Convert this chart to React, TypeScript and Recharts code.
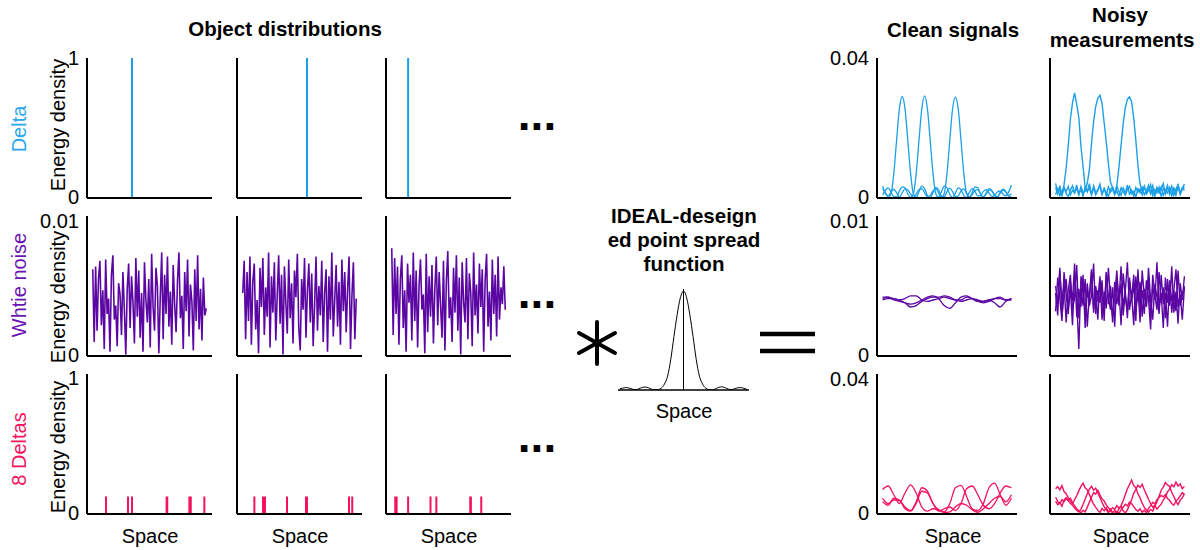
import React from 'react';
import { LineChart, Line, XAxis, YAxis, ReferenceLine } from 'recharts';

const FONT = '"Liberation Sans", Arial, Helvetica, sans-serif';
const BLUE = '#1b9fe7';
const PURPLE = '#5b06a3';
const PINK = '#f3125b';

// ---------- tick labels ----------
const objectDeltaTicks = [0, 1];
const noiseTicks = [0, 0.01];
const signalTicks = [0, 0.04];

// ---------- object distributions ----------
const deltaPositions = [0.36, 0.56, 0.177];
const deltaHeight = 1;
const eightDeltaHeight = 0.125;
const eightDeltas1 = [0.152, 0.328, 0.36, 0.637, 0.642, 0.819, 0.83, 0.939];
const eightDeltas2 = [0.139, 0.208, 0.224, 0.4, 0.552, 0.56, 0.896, 0.922];
const eightDeltas3 = [0.074, 0.085, 0.177, 0.356, 0.403, 0.674, 0.679, 0.762];

const whiteNoise1 = [
  0.0062, 0.0010, 0.0064, 0.0018, 0.0055, 0.0068, 0.0022, 0.0047, 0.0005, 0.0069,
  0.0030, 0.0041, 0.0003, 0.0058, 0.0072, 0.0026, 0.0036, 0.0007, 0.0052, 0.0044,
  0.0015, 0.0060, 0.0033, 0.0001, 0.0048, 0.0066, 0.0020, 0.0057, 0.0038, 0.0009,
  0.0070, 0.0028, 0.0061, 0.0013, 0.0045, 0.0003, 0.0067, 0.0040, 0.0024, 0.0055,
  0.0006, 0.0073, 0.0035, 0.0018, 0.0063, 0.0050, 0.0002, 0.0042, 0.0074, 0.0012,
  0.0058, 0.0030, 0.0071, 0.0021, 0.0046, 0.0008, 0.0065, 0.0037, 0.0017, 0.0054,
  0.0074, 0.0027, 0.0043, 0.0005, 0.0060, 0.0032, 0.0069, 0.0014, 0.0051, 0.0039,
  0.0004, 0.0062, 0.0025, 0.0072, 0.0019, 0.0048, 0.0011, 0.0056, 0.0029, 0.0034,
];
const whiteNoise2 = [
  0.0045, 0.0068, 0.0012, 0.0060, 0.0025, 0.0071, 0.0008, 0.0053, 0.0066, 0.0019,
  0.0040, 0.0002, 0.0063, 0.0035, 0.0070, 0.0015, 0.0049, 0.0028, 0.0074, 0.0006,
  0.0057, 0.0031, 0.0067, 0.0011, 0.0044, 0.0072, 0.0023, 0.0058, 0.0001, 0.0064,
  0.0038, 0.0016, 0.0069, 0.0027, 0.0052, 0.0009, 0.0061, 0.0042, 0.0073, 0.0020,
  0.0004, 0.0055, 0.0033, 0.0070, 0.0013, 0.0047, 0.0066, 0.0024, 0.0059, 0.0007,
  0.0036, 0.0071, 0.0018, 0.0050, 0.0029, 0.0068, 0.0010, 0.0045, 0.0062, 0.0003,
  0.0057, 0.0026, 0.0074, 0.0014, 0.0040, 0.0065, 0.0021, 0.0053, 0.0008, 0.0069,
  0.0032, 0.0060, 0.0017, 0.0048, 0.0071, 0.0005, 0.0043, 0.0067, 0.0012, 0.0041,
];
const whiteNoise3 = [
  0.0077, 0.0015, 0.0070, 0.0030, 0.0064, 0.0008, 0.0055, 0.0072, 0.0020, 0.0047,
  0.0003, 0.0066, 0.0038, 0.0058, 0.0011, 0.0074, 0.0025, 0.0061, 0.0006, 0.0050,
  0.0069, 0.0033, 0.0044, 0.0002, 0.0073, 0.0017, 0.0057, 0.0028, 0.0065, 0.0009,
  0.0048, 0.0071, 0.0022, 0.0060, 0.0036, 0.0013, 0.0068, 0.0004, 0.0053, 0.0075,
  0.0027, 0.0042, 0.0010, 0.0063, 0.0031, 0.0072, 0.0018, 0.0056, 0.0001, 0.0067,
  0.0039, 0.0024, 0.0070, 0.0012, 0.0059, 0.0045, 0.0007, 0.0074, 0.0029, 0.0051,
  0.0016, 0.0066, 0.0035, 0.0062, 0.0003, 0.0054, 0.0073, 0.0021, 0.0046, 0.0011,
  0.0069, 0.0030, 0.0058, 0.0014, 0.0071, 0.0026, 0.0049, 0.0037, 0.0064, 0.0033,
];

// ---------- point spread function (normalised) ----------
const psf = [
  0.012, 0.020, 0.024, 0.018, 0.008, 0.004, 0.012, 0.026, 0.030, 0.022,
  0.008, 0.001, 0.004, 0.018, 0.060, 0.140, 0.310, 0.540, 0.760, 0.930,
  1.000, 0.930, 0.760, 0.540, 0.310, 0.140, 0.060, 0.018, 0.004, 0.001,
  0.010, 0.026, 0.032, 0.024, 0.010, 0.004, 0.012, 0.022, 0.025, 0.016,
  0.006,
];

// ---------- clean signals: delta row ----------
const cleanDeltaA = [
  0.0026, 0.0014, 0.0002, 0.0012, 0.0070, 0.0165, 0.0255, 0.0290, 0.0255, 0.0165,
  0.0070, 0.0012, 0.0002, 0.0018, 0.0034, 0.0027, 0.0007, 0.0001, 0.0015, 0.0030,
  0.0023, 0.0006, 0.0003, 0.0018, 0.0028, 0.0018, 0.0004, 0.0006, 0.0020, 0.0026,
  0.0014, 0.0003, 0.0009, 0.0022, 0.0024, 0.0011, 0.0003, 0.0012, 0.0023, 0.0020,
  0.0008, 0.0004, 0.0015, 0.0025, 0.0019, 0.0007, 0.0012,
];
const cleanDeltaB = [
  0.0009, 0.0022, 0.0029, 0.0017, 0.0004, 0.0003, 0.0020, 0.0032, 0.0029, 0.0012,
  0.0002, 0.0012, 0.0070, 0.0165, 0.0255, 0.0292, 0.0255, 0.0165, 0.0070, 0.0012,
  0.0002, 0.0017, 0.0034, 0.0029, 0.0010, 0.0001, 0.0014, 0.0029, 0.0024, 0.0007,
  0.0002, 0.0016, 0.0027, 0.0019, 0.0006, 0.0007, 0.0019, 0.0024, 0.0014, 0.0004,
  0.0008, 0.0017, 0.0020, 0.0011, 0.0006, 0.0017, 0.0037,
];
const cleanDeltaC = [
  0.0034, 0.0014, 0.0006, 0.0017, 0.0025, 0.0015, 0.0003, 0.0015, 0.0026, 0.0023,
  0.0012, 0.0002, 0.0011, 0.0025, 0.0027, 0.0015, 0.0003, 0.0007, 0.0020, 0.0027,
  0.0014, 0.0002, 0.0012, 0.0070, 0.0165, 0.0255, 0.0288, 0.0255, 0.0165, 0.0070,
  0.0012, 0.0002, 0.0016, 0.0032, 0.0030, 0.0011, 0.0002, 0.0015, 0.0027, 0.0022,
  0.0007, 0.0003, 0.0015, 0.0022, 0.0016, 0.0006, 0.0002,
];

// ---------- noisy measurements: delta row ----------
const noisyDeltaA = [
  0.0030, 0.0012, 0.0035, 0.0008, 0.0038, 0.0085, 0.0150, 0.0225, 0.0272, 0.0300,
  0.0268, 0.0230, 0.0148, 0.0090, 0.0030, 0.0018, 0.0041, 0.0012, 0.0028, 0.0009,
  0.0022, 0.0035, 0.0010, 0.0027, 0.0016, 0.0004, 0.0025, 0.0031, 0.0011, 0.0020,
  0.0006, 0.0029, 0.0018, 0.0008, 0.0024, 0.0033, 0.0012, 0.0019, 0.0003, 0.0026,
  0.0015, 0.0030, 0.0009, 0.0021, 0.0036, 0.0011, 0.0024, 0.0005, 0.0028, 0.0017,
  0.0032, 0.0008, 0.0023, 0.0014, 0.0030, 0.0006, 0.0027, 0.0019, 0.0034, 0.0010,
  0.0025, 0.0031,
];
const noisyDeltaB = [
  0.0010, 0.0026, 0.0007, 0.0019, 0.0031, 0.0013, 0.0004, 0.0022, 0.0035, 0.0016,
  0.0028, 0.0009, 0.0033, 0.0015, 0.0020, 0.0042, 0.0082, 0.0155, 0.0218, 0.0262,
  0.0285, 0.0294, 0.0270, 0.0215, 0.0160, 0.0098, 0.0045, 0.0030, 0.0012, 0.0034,
  0.0018, 0.0008, 0.0029, 0.0014, 0.0037, 0.0011, 0.0023, 0.0005, 0.0030, 0.0017,
  0.0026, 0.0009, 0.0033, 0.0013, 0.0021, 0.0038, 0.0007, 0.0024, 0.0015, 0.0031,
  0.0004, 0.0027, 0.0019, 0.0036, 0.0010, 0.0022, 0.0029, 0.0008, 0.0034, 0.0016,
  0.0025, 0.0040,
];
const noisyDeltaC = [
  0.0042, 0.0015, 0.0024, 0.0006, 0.0029, 0.0018, 0.0033, 0.0009, 0.0022, 0.0014,
  0.0037, 0.0011, 0.0026, 0.0005, 0.0031, 0.0019, 0.0028, 0.0008, 0.0035, 0.0016,
  0.0023, 0.0040, 0.0012, 0.0027, 0.0006, 0.0032, 0.0017, 0.0025, 0.0010, 0.0035,
  0.0088, 0.0150, 0.0212, 0.0258, 0.0282, 0.0289, 0.0275, 0.0228, 0.0165, 0.0092,
  0.0040, 0.0021, 0.0033, 0.0012, 0.0028, 0.0019, 0.0036, 0.0009, 0.0030, 0.0014,
  0.0025, 0.0041, 0.0011, 0.0029, 0.0018, 0.0034, 0.0007, 0.0026, 0.0038, 0.0013,
  0.0030, 0.0022,
];

// ---------- clean signals: white noise row ----------
const cleanNoiseA = [
  0.0040, 0.0041, 0.0041, 0.0040, 0.0041, 0.0043, 0.0043, 0.0040, 0.0039, 0.0040,
  0.0041, 0.0042, 0.0041, 0.0040, 0.0040, 0.0042, 0.0041, 0.0039, 0.0039, 0.0040,
  0.0041, 0.0041, 0.0040, 0.0040,
];
const cleanNoiseB = [
  0.0041, 0.0042, 0.0041, 0.0040, 0.0038, 0.0035, 0.0036, 0.0039, 0.0041, 0.0042,
  0.0042, 0.0043, 0.0042, 0.0040, 0.0039, 0.0040, 0.0041, 0.0040, 0.0039, 0.0040,
  0.0038, 0.0035, 0.0039, 0.0041,
];
const cleanNoiseC = [
  0.0042, 0.0042, 0.0040, 0.0039, 0.0038, 0.0037, 0.0038, 0.0040, 0.0042, 0.0043,
  0.0041, 0.0036, 0.0034, 0.0038, 0.0042, 0.0043, 0.0041, 0.0039, 0.0038, 0.0039,
  0.0041, 0.0042, 0.0040, 0.0041,
];

// ---------- noisy measurements: white noise row ----------
const noisyNoiseA = [
  0.0045, 0.0029, 0.0061, 0.0038, 0.0052, 0.0024, 0.0047, 0.0058, 0.0033, 0.0042,
  0.0065, 0.0027, 0.0049, 0.0036, 0.0055, 0.0021, 0.0044, 0.0060, 0.0031, 0.0050,
  0.0039, 0.0057, 0.0026, 0.0046, 0.0034, 0.0063, 0.0041, 0.0028, 0.0053, 0.0037,
  0.0048, 0.0022, 0.0059, 0.0043, 0.0032, 0.0056, 0.0040, 0.0051, 0.0025, 0.0062,
  0.0035, 0.0047, 0.0030, 0.0054, 0.0041, 0.0019, 0.0058, 0.0044, 0.0033, 0.0060,
  0.0038, 0.0049, 0.0027, 0.0055, 0.0036, 0.0064, 0.0031, 0.0046, 0.0023, 0.0052,
  0.0040, 0.0057,
];
const noisyNoiseB = [
  0.0032, 0.0056, 0.0041, 0.0025, 0.0060, 0.0044, 0.0030, 0.0053, 0.0039, 0.0066,
  0.0028, 0.0048, 0.0035, 0.0058, 0.0020, 0.0047, 0.0038, 0.0062, 0.0034, 0.0045,
  0.0026, 0.0055, 0.0042, 0.0031, 0.0059, 0.0037, 0.0050, 0.0024, 0.0043, 0.0061,
  0.0036, 0.0052, 0.0029, 0.0046, 0.0067, 0.0033, 0.0044, 0.0022, 0.0057, 0.0039,
  0.0053, 0.0028, 0.0048, 0.0035, 0.0063, 0.0040, 0.0026, 0.0051, 0.0042, 0.0030,
  0.0058, 0.0037, 0.0045, 0.0021, 0.0054, 0.0039, 0.0047, 0.0032, 0.0061, 0.0036,
  0.0043, 0.0050,
];
const noisyNoiseC = [
  0.0050, 0.0037, 0.0063, 0.0028, 0.0044, 0.0055, 0.0034, 0.0048, 0.0022, 0.0059,
  0.0040, 0.0005, 0.0057, 0.0045, 0.0031, 0.0052, 0.0036, 0.0043, 0.0066, 0.0030,
  0.0047, 0.0038, 0.0054, 0.0025, 0.0060, 0.0042, 0.0033, 0.0049, 0.0021, 0.0056,
  0.0039, 0.0064, 0.0035, 0.0046, 0.0027, 0.0053, 0.0041, 0.0058, 0.0032, 0.0048,
  0.0024, 0.0061, 0.0043, 0.0036, 0.0055, 0.0029, 0.0050, 0.0040, 0.0067, 0.0034,
  0.0045, 0.0020, 0.0056, 0.0038, 0.0052, 0.0031, 0.0047, 0.0062, 0.0035, 0.0044,
  0.0026, 0.0049,
];

// ---------- clean signals: 8 deltas row ----------
const cleanEightA = [
  0.0070, 0.0080, 0.0055, 0.0030, 0.0060, 0.0083, 0.0060, 0.0020, 0.0008, 0.0015,
  0.0012, 0.0006, 0.0030, 0.0075, 0.0082, 0.0050, 0.0015, 0.0010, 0.0030, 0.0075,
  0.0088, 0.0055, 0.0025, 0.0045,
];
const cleanEightB = [
  0.0045, 0.0030, 0.0040, 0.0038, 0.0020, 0.0010, 0.0035, 0.0075, 0.0065, 0.0030,
  0.0008, 0.0015, 0.0020, 0.0010, 0.0030, 0.0072, 0.0080, 0.0055, 0.0025, 0.0015,
  0.0030, 0.0060, 0.0080, 0.0075,
];
const cleanEightC = [
  0.0035, 0.0025, 0.0045, 0.0040, 0.0015, 0.0008, 0.0030, 0.0065, 0.0060, 0.0030,
  0.0012, 0.0004, 0.0006, 0.0020, 0.0030, 0.0025, 0.0012, 0.0005, 0.0015, 0.0030,
  0.0045, 0.0050, 0.0035, 0.0055,
];

// ---------- noisy measurements: 8 deltas row ----------
const noisyEightA = [
  0.0072, 0.0078, 0.0069, 0.0081, 0.0064, 0.0058, 0.0047, 0.0038, 0.0030, 0.0041,
  0.0052, 0.0066, 0.0079, 0.0088, 0.0075, 0.0069, 0.0056, 0.0041, 0.0028, 0.0019,
  0.0011, 0.0004, 0.0016, 0.0009, 0.0018, 0.0006, 0.0014, 0.0003, 0.0011, 0.0002,
  0.0015, 0.0024, 0.0038, 0.0055, 0.0072, 0.0084, 0.0097, 0.0081, 0.0075, 0.0058,
  0.0046, 0.0031, 0.0019, 0.0012, 0.0005, 0.0013, 0.0008, 0.0022, 0.0035, 0.0051,
  0.0068, 0.0077, 0.0090, 0.0083, 0.0079, 0.0062, 0.0050, 0.0036, 0.0027, 0.0039,
  0.0046, 0.0058,
];
const noisyEightB = [
  0.0048, 0.0036, 0.0029, 0.0041, 0.0035, 0.0044, 0.0038, 0.0031, 0.0025, 0.0017,
  0.0011, 0.0006, 0.0014, 0.0027, 0.0043, 0.0058, 0.0071, 0.0079, 0.0068, 0.0074,
  0.0060, 0.0047, 0.0033, 0.0021, 0.0012, 0.0004, 0.0010, 0.0018, 0.0013, 0.0024,
  0.0016, 0.0021, 0.0009, 0.0003, 0.0012, 0.0026, 0.0041, 0.0059, 0.0070, 0.0082,
  0.0076, 0.0085, 0.0069, 0.0056, 0.0042, 0.0030, 0.0019, 0.0025, 0.0014, 0.0021,
  0.0028, 0.0040, 0.0049, 0.0063, 0.0071, 0.0084, 0.0078, 0.0091, 0.0080, 0.0086,
  0.0072, 0.0079,
];
const noisyEightC = [
  0.0036, 0.0027, 0.0033, 0.0022, 0.0040, 0.0047, 0.0039, 0.0045, 0.0032, 0.0024,
  0.0015, 0.0009, 0.0003, 0.0011, 0.0006, 0.0019, 0.0034, 0.0048, 0.0061, 0.0057,
  0.0068, 0.0055, 0.0043, 0.0037, 0.0026, 0.0018, 0.0010, 0.0004, 0.0001, 0.0007,
  0.0002, 0.0012, 0.0020, 0.0028, 0.0023, 0.0034, 0.0029, 0.0021, 0.0013, 0.0008,
  0.0015, 0.0005, 0.0011, 0.0003, 0.0016, 0.0024, 0.0033, 0.0029, 0.0041, 0.0047,
  0.0053, 0.0049, 0.0056, 0.0044, 0.0039, 0.0030, 0.0025, 0.0037, 0.0043, 0.0052,
  0.0061, 0.0055,
];

// ---------- helpers ----------
type Row = Record<string, number | null>;

function spikes(positions: number[], height: number): Row[] {
  const out: Row[] = [];
  positions.forEach((p) => {
    out.push({ x: p, y: 0 });
    out.push({ x: p, y: height });
    out.push({ x: p, y: null });
  });
  return out;
}

function single(values: number[]): Row[] {
  return values.map((v, i) => ({ x: i, a: v }));
}

function triple(a: number[], b: number[], c: number[]): Row[] {
  return a.map((v, i) => ({ x: i, a: v, b: b[i], c: c[i] }));
}

type SeriesDef = { key: string; color: string; width: number; curve: 'linear' | 'monotone' };

const LEFT = 50;
const TOP = 14;
const RIGHT = 6;
const BOTTOM = 14;

function makeTick(topShift: number) {
  return (p: any) => {
    const isZero = p.payload && p.payload.value === 0;
    return (
      <text
        x={p.x}
        y={p.y}
        dy={isZero ? 6 : 7 + topShift}
        textAnchor="end"
        fill="#000"
        fontSize={20}
        fontFamily={FONT}
      >
        {p.payload ? String(p.payload.value) : ''}
      </text>
    );
  };
}

function Panel(props: {
  x0: number;
  y0: number;
  w: number;
  h: number;
  data: Row[];
  xDomain: [number, number];
  yDomain: [number, number];
  yTicks?: number[];
  topShift?: number;
  series: SeriesDef[];
}) {
  const { x0, y0, w, h, data, xDomain, yDomain, yTicks, series, topShift = 0 } = props;
  return (
    <div style={{ position: 'absolute', left: x0 - LEFT, top: y0 - TOP }}>
      <LineChart
        width={w + LEFT + RIGHT}
        height={h + TOP + BOTTOM}
        data={data}
        margin={{ top: TOP, right: RIGHT, bottom: 0, left: 0 }}
      >
        <XAxis
          type="number"
          dataKey="x"
          domain={xDomain}
          allowDataOverflow
          tick={false}
          tickLine={false}
          axisLine={{ stroke: '#000', strokeWidth: 2 }}
          height={BOTTOM}
        />
        <YAxis
          type="number"
          domain={yDomain}
          allowDataOverflow
          ticks={yTicks}
          interval={0}
          tick={yTicks ? makeTick(topShift) : false}
          tickLine={false}
          axisLine={{ stroke: '#000', strokeWidth: 2 }}
          width={LEFT}
        />
        {series.map((s) => (
          <Line
            key={s.key}
            dataKey={s.key}
            type={s.curve}
            stroke={s.color}
            strokeWidth={s.width}
            dot={false}
            activeDot={false}
            connectNulls={false}
            isAnimationActive={false}
          />
        ))}
      </LineChart>
    </div>
  );
}

function T(props: {
  x: number;
  y: number;
  children: React.ReactNode;
  size?: number;
  bold?: boolean;
  color?: string;
  rotate?: boolean;
}) {
  const { x, y, children, size = 20, bold = false, color = '#000', rotate = false } = props;
  return (
    <div
      style={{
        position: 'absolute',
        left: x,
        top: y,
        transform: `translate(-50%, -50%)${rotate ? ' rotate(-90deg)' : ''}`,
        fontSize: size,
        fontWeight: bold ? 700 : 400,
        color,
        whiteSpace: 'nowrap',
        fontFamily: FONT,
        lineHeight: 1,
      }}
    >
      {children}
    </div>
  );
}

const OBJ_X = [87, 237, 386];
const OBJ_W = 125;
const ROW_Y = [58, 216, 374];
const ROW_H = 140;
const CLEAN_X = 877;
const NOISY_X = 1050;
const SIG_W = 140;

const spikeSeries = (color: string): SeriesDef[] => [{ key: 'y', color, width: 2, curve: 'linear' }];
const tripleSeries = (color: string, width: number, curve: 'linear' | 'monotone'): SeriesDef[] => [
  { key: 'a', color, width, curve },
  { key: 'b', color, width, curve },
  { key: 'c', color, width, curve },
];

export default function App() {
  const whiteNoise = [whiteNoise1, whiteNoise2, whiteNoise3];
  const eightDeltas = [eightDeltas1, eightDeltas2, eightDeltas3];
  return (
    <div
      style={{
        position: 'absolute',
        left: 0,
        top: 0,
        width: 1200,
        height: 550,
        background: '#fff',
        overflow: 'hidden',
        fontFamily: FONT,
      }}
    >
      {/* object distributions: delta row */}
      {deltaPositions.map((p, k) => (
        <Panel
          key={`d${k}`}
          x0={OBJ_X[k]}
          y0={ROW_Y[0]}
          w={OBJ_W}
          h={ROW_H}
          data={spikes([p], deltaHeight)}
          xDomain={[0, 1]}
          yDomain={[0, 1]}
          yTicks={k === 0 ? objectDeltaTicks : undefined}
          series={spikeSeries(BLUE)}
        />
      ))}
      {/* white noise row */}
      {whiteNoise.map((arr, k) => (
        <Panel
          key={`w${k}`}
          x0={OBJ_X[k]}
          y0={ROW_Y[1]}
          w={OBJ_W}
          h={ROW_H}
          data={single(arr)}
          xDomain={[-4, 83]}
          yDomain={[0, 0.01]}
          yTicks={k === 0 ? noiseTicks : undefined}
          topShift={5}
          series={[{ key: 'a', color: PURPLE, width: 1.6, curve: 'linear' }]}
        />
      ))}
      {/* 8 deltas row */}
      {eightDeltas.map((arr, k) => (
        <Panel
          key={`e${k}`}
          x0={OBJ_X[k]}
          y0={ROW_Y[2]}
          w={OBJ_W}
          h={ROW_H}
          data={spikes(arr, eightDeltaHeight)}
          xDomain={[0, 1]}
          yDomain={[0, 1]}
          yTicks={k === 0 ? objectDeltaTicks : undefined}
          topShift={4}
          series={spikeSeries(PINK)}
        />
      ))}

      {/* clean signals */}
      <Panel
        x0={CLEAN_X}
        y0={ROW_Y[0]}
        w={SIG_W}
        h={ROW_H}
        data={triple(cleanDeltaA, cleanDeltaB, cleanDeltaC)}
        xDomain={[-2, 48]}
        yDomain={[0, 0.04]}
        yTicks={signalTicks}
        series={tripleSeries(BLUE, 1.3, 'monotone')}
      />
      <Panel
        x0={CLEAN_X}
        y0={ROW_Y[1]}
        w={SIG_W}
        h={ROW_H}
        data={triple(cleanNoiseA, cleanNoiseB, cleanNoiseC)}
        xDomain={[-1, 24]}
        yDomain={[0, 0.01]}
        yTicks={noiseTicks}
        topShift={5}
        series={tripleSeries(PURPLE, 1.3, 'monotone')}
      />
      <Panel
        x0={CLEAN_X}
        y0={ROW_Y[2]}
        w={SIG_W}
        h={ROW_H}
        data={triple(cleanEightA, cleanEightB, cleanEightC)}
        xDomain={[-1, 24]}
        yDomain={[0, 0.04]}
        yTicks={signalTicks}
        topShift={5}
        series={tripleSeries(PINK, 1.3, 'monotone')}
      />

      {/* noisy measurements */}
      <Panel
        x0={NOISY_X}
        y0={ROW_Y[0]}
        w={SIG_W}
        h={ROW_H}
        data={triple(noisyDeltaA, noisyDeltaB, noisyDeltaC)}
        xDomain={[-2.65, 63.65]}
        yDomain={[0, 0.04]}
        series={tripleSeries(BLUE, 1.4, 'linear')}
      />
      <Panel
        x0={NOISY_X}
        y0={ROW_Y[1]}
        w={SIG_W}
        h={ROW_H}
        data={triple(noisyNoiseA, noisyNoiseB, noisyNoiseC)}
        xDomain={[-2.65, 63.65]}
        yDomain={[0, 0.01]}
        series={tripleSeries(PURPLE, 1.4, 'linear')}
      />
      <Panel
        x0={NOISY_X}
        y0={ROW_Y[2]}
        w={SIG_W}
        h={ROW_H}
        data={triple(noisyEightA, noisyEightB, noisyEightC)}
        xDomain={[-2.65, 63.65]}
        yDomain={[0, 0.04]}
        series={tripleSeries(PINK, 1.4, 'linear')}
      />

      {/* point spread function */}
      <div style={{ position: 'absolute', left: 618 - 2, top: 289 - 2 }}>
        <LineChart width={131 + 4} height={101 + 6} data={single(psf)} margin={{ top: 2, right: 2, bottom: 0, left: 2 }}>
          <XAxis
            type="number"
            dataKey="x"
            domain={[-0.6, 40.6]}
            allowDataOverflow
            tick={false}
            tickLine={false}
            axisLine={{ stroke: '#000', strokeWidth: 1.5 }}
            height={4}
          />
          <YAxis type="number" domain={[0, 1.02]} allowDataOverflow hide />
          <ReferenceLine x={20} stroke="#000" strokeWidth={1} />
          <Line
            dataKey="a"
            type="monotone"
            stroke="#000"
            strokeWidth={1}
            dot={false}
            activeDot={false}
            isAnimationActive={false}
          />
        </LineChart>
      </div>

      {/* operators */}
      <svg
        width={1200}
        height={550}
        style={{ position: 'absolute', left: 0, top: 0, pointerEvents: 'none' }}
      >
        <g stroke="#000" strokeWidth={4} strokeLinecap="round">
          <line x1={597} y1={322} x2={597} y2={364} />
          <line x1={579} y1={333} x2={615} y2={353} />
          <line x1={579} y1={353} x2={615} y2={333} />
        </g>
        <g stroke="#000" strokeWidth={4.5}>
          <line x1={760} y1={334} x2={815} y2={334} />
          <line x1={760} y1={351} x2={815} y2={351} />
        </g>
      </svg>

      {/* titles */}
      <T x={285} y={29} size={20.5} bold>Object distributions</T>
      <T x={953} y={30} size={20.5} bold>Clean signals</T>
      <T x={1120} y={15} size={20.5} bold>Noisy</T>
      <T x={1122} y={40} size={20.5} bold>measurements</T>
      <T x={684} y={216} size={20.5} bold>IDEAL-deseign</T>
      <T x={684} y={240} size={20.5} bold>ed point spread</T>
      <T x={684} y={264} size={20.5} bold>function</T>

      {/* row labels */}
      <T x={19} y={129} color="#29a9ec" rotate>Delta</T>
      <T x={19} y={285} color="#6a14b3" rotate>Whtie noise</T>
      <T x={19} y={449} color="#f3155e" rotate>8 Deltas</T>
      <T x={58} y={125} rotate>Energy density</T>
      <T x={58} y={297} rotate>Energy density</T>
      <T x={58} y={447} rotate>Energy density</T>

      {/* x labels */}
      <T x={150} y={536}>Space</T>
      <T x={300} y={536}>Space</T>
      <T x={449} y={536}>Space</T>
      <T x={953} y={536}>Space</T>
      <T x={1121} y={536}>Space</T>
      <T x={684} y={411}>Space</T>

      {/* ellipses */}
      <T x={537} y={114} size={46} bold>...</T>
      <T x={537} y={292} size={46} bold>...</T>
      <T x={537} y={436} size={46} bold>...</T>
    </div>
  );
}
